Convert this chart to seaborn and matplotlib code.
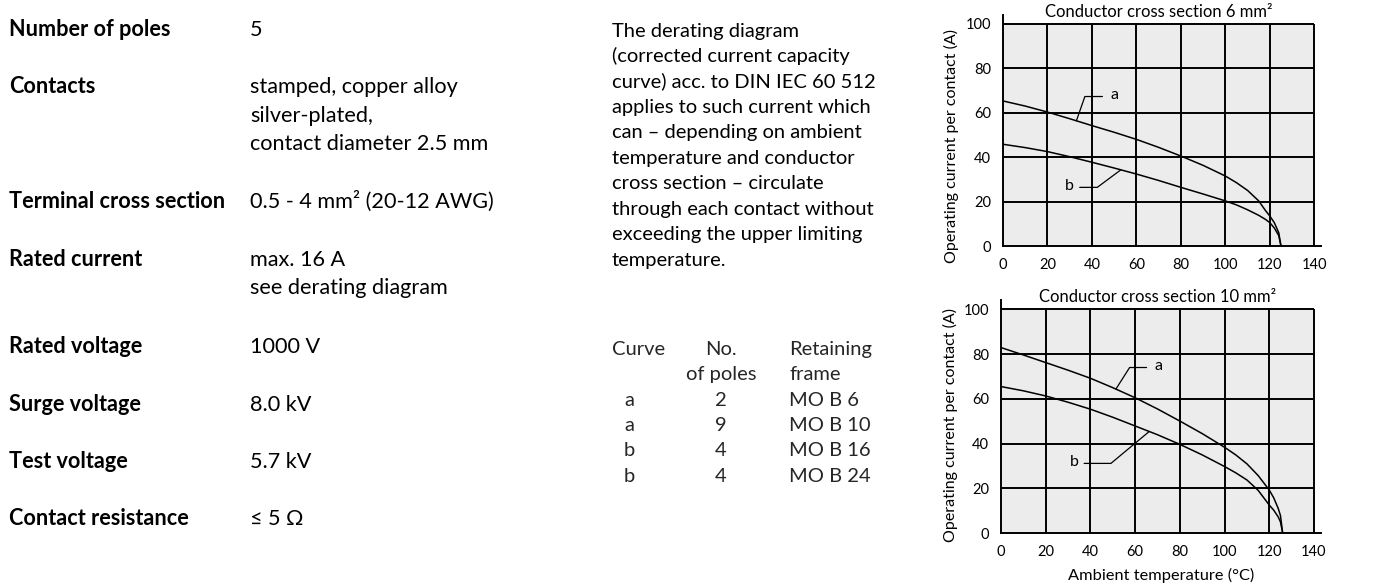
import numpy as np
import pandas as pd
import matplotlib
matplotlib.use("Agg")
import matplotlib.pyplot as plt
from matplotlib.patches import Rectangle
import seaborn as sns

# ---- derating curves: conductor cross section 6 mm² ----
temp_6 = [0, 10, 20, 30, 40, 50, 60, 70, 80, 90, 100, 105, 110, 115, 118, 120, 122, 124, 125]
curve_a_6 = [65.3, 63.0, 60.3, 57.3, 54.2, 51.2, 48.0, 44.4, 40.5, 36.3, 31.5, 28.5,
             25.0, 20.3, 16.0, 13.5, 10.5, 6.0, 0.0]
curve_b_6 = [45.8, 44.3, 42.5, 40.2, 37.7, 35.1, 32.4, 29.5, 26.4, 23.4, 20.3, 18.5,
             16.3, 13.8, 12.0, 10.5, 8.1, 4.7, 0.0]

# ---- derating curves: conductor cross section 10 mm² ----
temp_10 = [0, 10, 20, 30, 40, 50, 60, 70, 80, 90, 100, 105, 110, 115, 120, 122, 124, 125, 126]
curve_a_10 = [82.9, 79.6, 76.2, 72.8, 69.2, 65.0, 60.5, 55.5, 50.1, 44.5, 38.4, 35.0,
              31.0, 25.8, 19.3, 15.8, 11.1, 7.9, 0.0]
curve_b_10 = [65.5, 63.6, 61.3, 58.5, 55.4, 51.8, 47.9, 44.0, 39.7, 35.0, 29.8, 27.0,
              23.8, 19.2, 12.6, 10.3, 7.3, 5.1, 0.0]

x_ticks = [0, 20, 40, 60, 80, 100, 120, 140]
y_ticks = [0, 20, 40, 60, 80, 100]

panel_titles = ["Conductor cross section 6 mm²", "Conductor cross section 10 mm²"]
y_title = "Operating current per contact (A)"
x_title = "Ambient temperature (°C)"

# ---- specification list ----
spec_labels = ["Number of poles", "Contacts", "Terminal cross section", "Rated current",
               "Rated voltage", "Surge voltage", "Test voltage", "Contact resistance"]
spec_values = [["5"],
               ["stamped, copper alloy", "silver-plated,", "contact diameter 2.5 mm"],
               ["0.5 - 4 mm² (20-12 AWG)"],
               ["max. 16 A", "see derating diagram"],
               ["1000 V"], ["8.0 kV"], ["5.7 kV"], ["≤ 5 Ω"]]

note_lines = ["The derating diagram",
              "(corrected current capacity",
              "curve) acc. to DIN IEC 60 512",
              "applies to such current which",
              "can – depending on ambient",
              "temperature and conductor",
              "cross section – circulate",
              "through each contact without",
              "exceeding the upper limiting",
              "temperature."]

table_curve = ["a", "a", "b", "b"]
table_poles = ["2", "9", "4", "4"]
table_frame = ["MO B 6", "MO B 10", "MO B 16", "MO B 24"]

# ---- styling ----
sns.set_theme(style="white")
TEXT_FONT = ["Lato", "DejaVu Sans"]
plt.rcParams["font.family"] = TEXT_FONT
PANEL_GRAY = "#ececec"
INK = "black"
SPEC_SIZE = 15.6
NOTE_SIZE = 14.5

W, H = 1383, 586
fig = plt.figure(figsize=(W / 100, H / 100), dpi=100)
fig.patch.set_facecolor("white")


def fx(px):
    return px / W


def fy(py):
    return 1 - py / H


# ---- left column: specifications ----
spec_baselines = [36, 93, 208, 266, 353, 411, 468, 525]
for label, values, base in zip(spec_labels, spec_values, spec_baselines):
    fig.text(fx(9), fy(base), label, fontsize=SPEC_SIZE, fontweight="bold",
             va="baseline", ha="left", color=INK)
    for i, v in enumerate(values):
        fig.text(fx(250), fy(base + i * 28.5), v, fontsize=SPEC_SIZE,
                 va="baseline", ha="left", color=INK)

# ---- middle column: explanation and curve table ----
for i, line in enumerate(note_lines):
    fig.text(fx(612), fy(36.5 + i * 25.45), line, fontsize=NOTE_SIZE,
             va="baseline", ha="left", color=INK)

head_base = 355
fig.text(fx(612), fy(head_base), "Curve", fontsize=NOTE_SIZE, va="baseline", ha="left")
fig.text(fx(721), fy(head_base), "No.", fontsize=NOTE_SIZE, va="baseline", ha="center")
fig.text(fx(721), fy(head_base + 25.3), "of poles", fontsize=NOTE_SIZE, va="baseline", ha="center")
fig.text(fx(789), fy(head_base), "Retaining", fontsize=NOTE_SIZE, va="baseline", ha="left")
fig.text(fx(789), fy(head_base + 25.3), "frame", fontsize=NOTE_SIZE, va="baseline", ha="left")
for i, (c, p, f) in enumerate(zip(table_curve, table_poles, table_frame)):
    base = head_base + (i + 2) * 25.3
    fig.text(fx(629), fy(base), c, fontsize=NOTE_SIZE, va="baseline", ha="center")
    fig.text(fx(721), fy(base), p, fontsize=NOTE_SIZE, va="baseline", ha="center")
    fig.text(fx(789), fy(base), f, fontsize=NOTE_SIZE, va="baseline", ha="left")


# ---- derating diagrams ----
def draw_panel(ax, temps, a_vals, b_vals, title, title_y, leaders):
    n = len(temps)
    df = pd.DataFrame({"temp": list(temps) * 2,
                       "current": list(a_vals) + list(b_vals),
                       "curve": ["a"] * n + ["b"] * n})
    ax.set_facecolor("white")
    ax.add_patch(Rectangle((0, 0), x_ticks[-1], y_ticks[-1], facecolor=PANEL_GRAY,
                           edgecolor="none", zorder=0))
    ax.hlines(y_ticks[1:], 0, x_ticks[-1], color=INK, lw=1.4, zorder=1)
    ax.vlines(x_ticks[1:], 0, y_ticks[-1], color=INK, lw=1.4, zorder=1)
    sns.lineplot(data=df, x="temp", y="current", hue="curve",
                 palette={"a": INK, "b": INK}, sort=False, legend=False,
                 lw=1.1, ax=ax, zorder=3)
    ax.set_xlim(0, 143)
    ax.set_ylim(0, 104)
    ax.set_xticks(x_ticks)
    ax.set_yticks(y_ticks)
    ax.tick_params(length=0, pad=8.5, labelsize=10.5, colors=INK)
    for side in ("top", "right"):
        ax.spines[side].set_visible(False)
    for side in ("left", "bottom"):
        ax.spines[side].set_color(INK)
        ax.spines[side].set_linewidth(1.4)
    ax.grid(False)
    ax.set_xlabel("")
    ax.set_ylabel("")
    ax.text(x_ticks[-1] / 2, title_y, title, ha="center", va="baseline",
            fontsize=12, color=INK)

    series = {"a": a_vals, "b": b_vals}
    for name, x_on, x_end, y_line, angle, x_txt in leaders:
        y_on = np.interp(x_on, temps, series[name])
        ax.annotate("", xy=(x_on, y_on), xytext=(x_end, y_line),
                    arrowprops=dict(arrowstyle="-", color=INK, lw=0.9,
                                    shrinkA=0, shrinkB=0,
                                    connectionstyle=f"angle,angleA=0,angleB={angle},rad=0"))
        ax.text(x_txt, y_line + 0.8, name, ha="center", va="center",
                fontsize=11.5, color=INK)


ax_top = fig.add_axes([fx(1003), fy(246), 318 / W, 231 / H])
ax_bot = fig.add_axes([fx(1001), fy(533.3), 319.7 / W, 233 / H])

draw_panel(ax_top, temp_6, curve_a_6, curve_b_6, panel_titles[0], 103.0,
           [("a", 33.0, 44.7, 67.3, 70.7, 50.3),
            ("b", 53.0, 34.5, 26.4, 36.6, 30.0)])
draw_panel(ax_bot, temp_10, curve_a_10, curve_b_10, panel_titles[1], 103.4,
           [("a", 51.4, 65.1, 74.0, 57.6, 70.3),
            ("b", 66.3, 37.2, 31.2, 39.8, 33.0)])

ax_top.set_ylabel(y_title, fontsize=11.5, va="center", color=INK)
ax_top.yaxis.set_label_coords(-0.1635, 0.433)
ax_bot.set_ylabel(y_title, fontsize=11.5, va="center", color=INK)
ax_bot.yaxis.set_label_coords(-0.1595, 0.465)
ax_bot.set_xlabel(x_title, fontsize=11.8, va="center", color=INK)
ax_bot.xaxis.set_label_coords(0.5, -0.179)

fig.savefig("out.png", dpi=100, facecolor="white")
